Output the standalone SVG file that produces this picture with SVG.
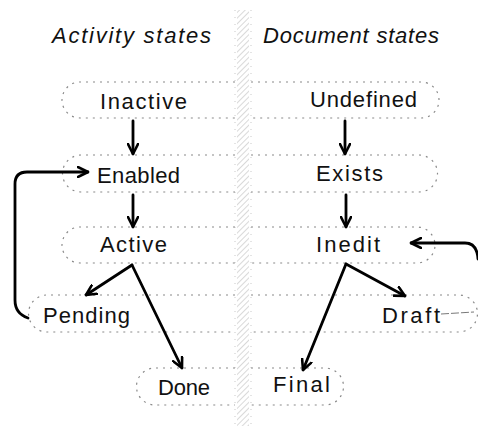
<svg xmlns="http://www.w3.org/2000/svg" width="478" height="426" viewBox="0 0 478 426">
<defs>
<style>
.box{fill:none;stroke:#8a8a8a;stroke-width:1.2;stroke-dasharray:2 5}
.lbl{font-family:"Liberation Sans",Arial,sans-serif;font-size:22px;fill:#111;text-anchor:start}
.ttl{font-family:"Liberation Sans",Arial,sans-serif;font-size:22px;font-style:italic;fill:#111}
.ar{fill:none;stroke:#000;stroke-width:2.8;stroke-linecap:round;stroke-linejoin:round}
</style>
<marker id="ah" viewBox="0 0 12 12" refX="11" refY="6" markerWidth="12" markerHeight="12" markerUnits="userSpaceOnUse" orient="auto">
<path d="M1,1 L11,6 L1,11" fill="none" stroke="#000" stroke-width="2.6" stroke-linecap="round" stroke-linejoin="round"/>
</marker>
<pattern id="hatch" width="4" height="4" patternUnits="userSpaceOnUse" patternTransform="rotate(45)">
<line x1="0" y1="0" x2="0" y2="4" stroke="#999" stroke-width="1"/>
</pattern>
</defs>
<g id="divider">
<rect x="237" y="10" width="12" height="416" fill="url(#hatch)" opacity="0.75"/>
<line x1="235" y1="10" x2="235" y2="426" stroke="#bbb" stroke-width="0.8" stroke-dasharray="1 6"/>
<line x1="251" y1="10" x2="251" y2="426" stroke="#bbb" stroke-width="0.8" stroke-dasharray="1 6"/>
</g>
<g id="titles">
<text class="ttl" x="52" y="43" textLength="159" lengthAdjust="spacing">Activity  states</text>
<text class="ttl" x="263" y="43" textLength="176" lengthAdjust="spacing">Document states</text>
</g>
<g id="inactive">
<path class="box" d="M235,82 H80 A18,18 0 0 0 80,118 H235"/>
<text class="lbl" x="100" y="109" textLength="87" lengthAdjust="spacing">Inactive</text>
</g>
<g id="undefined">
<path class="box" d="M251,82 H421 A18,18 0 0 1 421,118 H251"/>
<text class="lbl" x="310" y="107" textLength="107" lengthAdjust="spacing">Undefined</text>
</g>
<g id="enabled">
<path class="box" d="M235,155 H81 A18.5,18.5 0 0 0 81,192 H235"/>
<text class="lbl" x="97" y="183" textLength="83" lengthAdjust="spacing">Enabled</text>
</g>
<g id="exists">
<path class="box" d="M251,155 H419 A18.5,18.5 0 0 1 419,192 H251"/>
<text class="lbl" x="316" y="181" textLength="67" lengthAdjust="spacing">Exists</text>
</g>
<g id="active">
<path class="box" d="M235,227 H80 A18,18 0 0 0 80,263 H235"/>
<text class="lbl" x="100" y="252" textLength="67" lengthAdjust="spacing">Active</text>
</g>
<g id="inedit">
<path class="box" d="M251,227 H417 A18,18 0 0 1 417,263 H251"/>
<text class="lbl" x="316" y="252" textLength="64" lengthAdjust="spacing">Inedit</text>
</g>
<g id="pending">
<path class="box" d="M235,295 H47 A18.5,18.5 0 0 0 47,332 H235"/>
<text class="lbl" x="43" y="323" textLength="87" lengthAdjust="spacing">Pending</text>
</g>
<g id="draft">
<path class="box" d="M251,295 H459 A18.5,18.5 0 0 1 459,332 H251"/>
<text class="lbl" x="382" y="323" textLength="58" lengthAdjust="spacing">Draft</text>
</g>
<g id="done">
<path class="box" d="M235,368 H155 A18.5,18.5 0 0 0 155,405 H235"/>
<text class="lbl" x="158" y="395" textLength="52" lengthAdjust="spacing">Done</text>
</g>
<g id="final">
<path class="box" d="M251,368 H325 A18.5,18.5 0 0 1 325,405 H251"/>
<text class="lbl" x="273" y="392" textLength="57" lengthAdjust="spacing">Final</text>
</g>
<g id="connectors">
<line class="ar" x1="133" y1="121" x2="133" y2="154" marker-end="url(#ah)"/>
<line class="ar" x1="345" y1="121" x2="345" y2="154" marker-end="url(#ah)"/>
<line class="ar" x1="133" y1="195" x2="133" y2="227" marker-end="url(#ah)"/>
<line class="ar" x1="346" y1="195" x2="346" y2="227" marker-end="url(#ah)"/>
<line class="ar" x1="132" y1="265" x2="86" y2="295" marker-end="url(#ah)"/>
<line class="ar" x1="132" y1="265" x2="182" y2="368" marker-end="url(#ah)"/>
<line class="ar" x1="346" y1="264" x2="405" y2="296" marker-end="url(#ah)"/>
<line class="ar" x1="346" y1="264" x2="303" y2="370" marker-end="url(#ah)"/>
<path class="ar" d="M28,318 C19,315 15,309 15,300 V184 Q15,172 27,172 H88" marker-end="url(#ah)"/>
<path class="ar" d="M478,259 Q477,243 465,243 H411" marker-end="url(#ah)"/>
<line x1="441" y1="314" x2="474" y2="312" stroke="#555" stroke-width="0.8" stroke-dasharray="8 2"/>
</g>
</svg>
